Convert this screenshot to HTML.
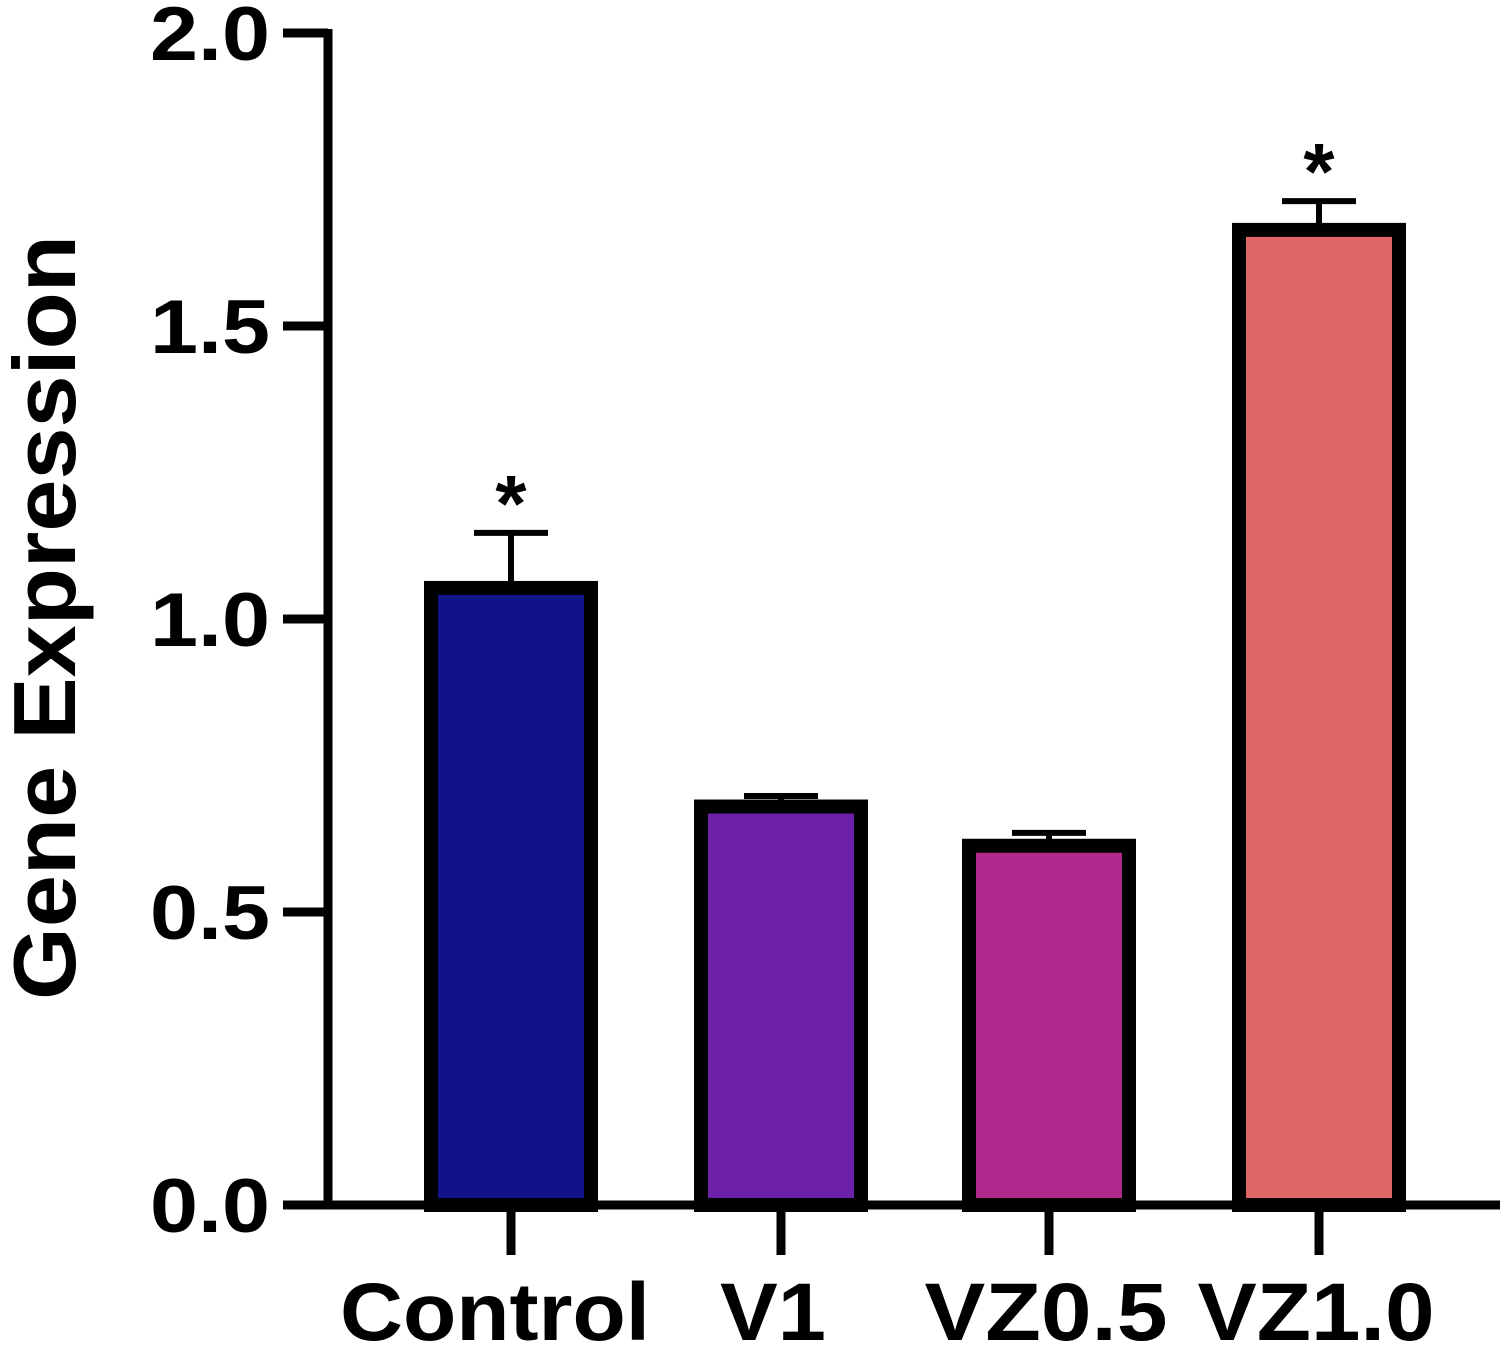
<!DOCTYPE html>
<html><head><meta charset="utf-8"><style>
html,body{margin:0;padding:0;background:#fff;}
svg{display:block;font-family:"Liberation Sans",Arial,sans-serif;font-weight:bold;}
</style></head><body>
<svg id="chart" width="1500" height="1347" viewBox="0 0 1500 1347" xmlns="http://www.w3.org/2000/svg"></svg>
<script>
const categories = ["Control", "V1", "VZ0.5", "VZ1.0"];
const values = [1.053, 0.68, 0.613, 1.664];
const errors = [0.094, 0.018, 0.022, 0.049];
const significant = [true, false, false, true];
const colors = ["#12138a", "#6d20a8", "#b02a8e", "#e06565"];
const yTicks = [0, 0.5, 1.0, 1.5, 2.0];
const yTickLabels = ["0.0", "0.5", "1.0", "1.5", "2.0"];

const NS = "http://www.w3.org/2000/svg";
const svg = document.getElementById("chart");
const y0 = 1205, pxPerUnit = 586;
const y = v => y0 - v * pxPerUnit;
const xCenters = [511, 781, 1049, 1319];
const x = i => xCenters[i];
const barW = 160;
const labelCenters = [495, 773, 1046, 1316];
const labelWidths = [310, 106, 243, 237];

function mk(tag, attrs, parent) {
  const e = document.createElementNS(NS, tag);
  for (const k in attrs) e.setAttribute(k, attrs[k]);
  (parent || svg).appendChild(e);
  return e;
}

categories.forEach((c, i) => {
  const top = y(values[i]);
  const g = mk("g", {});
  
  
  const eTop = y(values[i] + errors[i]);
  const el = mk("line", {x1: x(i), x2: x(i), y1: top, y2: eTop, stroke: "#000", "stroke-width": 6}, g);
  
  
  const cap = mk("line", {x1: x(i) - 37, x2: x(i) + 37, y1: eTop, y2: eTop, stroke: "#000", "stroke-width": 6}, g);
  
  
  const r = mk("rect", {x: x(i) - barW / 2, y: top, width: barW, height: y0 - top, fill: colors[i], stroke: "#000", "stroke-width": 14}, g);
  
  
  if (significant[i]) {
    const s = mk("text", {x: x(i), y: eTop - 2, "text-anchor": "middle", "font-size": 80}, g);
    
    
    s.textContent = "*";
  }
  const t = mk("line", {x1: x(i), x2: x(i), y1: y0, y2: 1255, stroke: "#000", "stroke-width": 9});
  
  
  const lab = mk("text", {x: labelCenters[i] - labelWidths[i] / 2, y: 1340, "font-size": 82, textLength: labelWidths[i], lengthAdjust: "spacingAndGlyphs"});
  
  
  lab.textContent = c;
});

const ya = mk("line", {x1: 328, x2: 328, y1: 29, y2: 1209, stroke: "#000", "stroke-width": 9});


const xa = mk("line", {x1: 283, x2: 1500, y1: y0, y2: y0, stroke: "#000", "stroke-width": 9});



yTicks.forEach((v, i) => {
  const t = mk("line", {x1: 283, x2: 328, y1: y(v), y2: y(v), stroke: "#000", "stroke-width": 9});
  
  
  const l = mk("text", {x: 150, y: y(v) + 27, "font-size": 76, textLength: 120, lengthAdjust: "spacingAndGlyphs"});
  
  
  l.textContent = yTickLabels[i];
});

const title = mk("text", {x: -382, y: 0, "font-size": 88, textLength: 765, lengthAdjust: "spacingAndGlyphs", transform: "translate(75,618) rotate(-90)"});


title.textContent = "Gene Expression";
</script>
</body></html>
